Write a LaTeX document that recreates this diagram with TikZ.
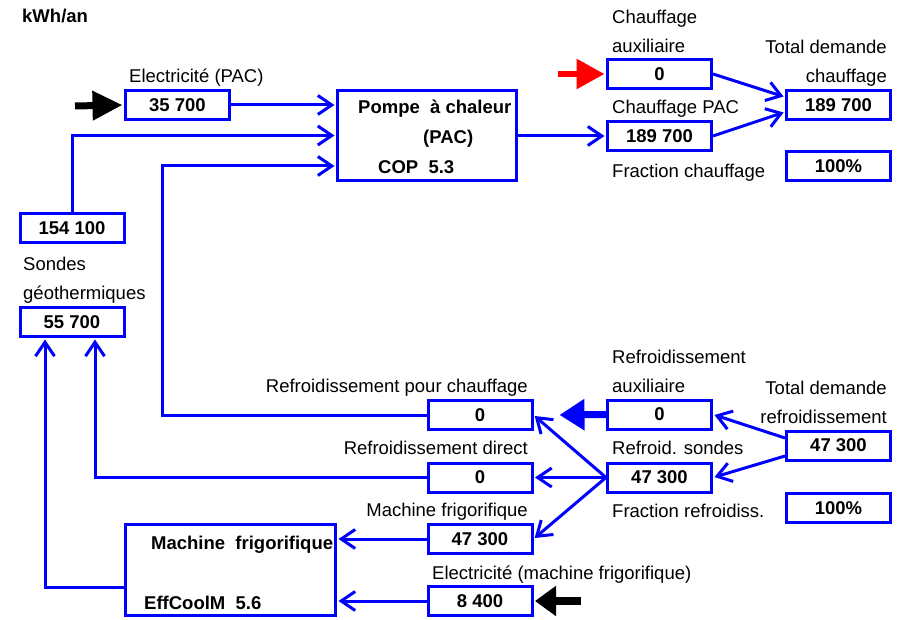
\documentclass[tikz,border=0pt]{standalone}
\usepackage{fontspec}
\setmainfont{Liberation Sans}
\usetikzlibrary{arrows.meta}
\begin{document}
\begin{tikzpicture}[x=1pt, y=-1pt, font=\fontsize{18.5}{29}\selectfont, line join=miter,
	>={Straight Barb[length=14pt,width=19pt]},
	box/.style={draw=blue, line width=3pt, minimum width=104pt, minimum height=29pt, inner sep=0pt, font=\fontsize{18.5}{29}\selectfont\bfseries},
	lab/.style={anchor=base west, inner sep=0pt, align=left},
	rlab/.style={anchor=base east, inner sep=0pt, align=right},
	blab/.style={anchor=base west, inner sep=0pt, font=\fontsize{18.5}{29}\selectfont\bfseries},
	flow/.style={->, draw=blue, line width=3pt, shorten >=1.5pt},
	bigarrow/.style={line width=7pt, shorten >=1.5pt}]
	\useasboundingbox (0,0) rectangle (897,620); % khung hình
	% cases valeurs
	\node[box] (elecpac) at (177.5,105) {35 700};
	\node[box, minimum width=179pt, minimum height=90pt] (pac) at (427,135.5) {};
	\node[box] (chaux) at (659.5,74) {0};
	\node[box] (chpac) at (659.5,136) {189 700};
	\node[box] (tch) at (838.5,105.5) {189 700};
	\node[box] (fch) at (838.5,166.5) {100\%};
	\node[box] (geotot) at (72,228.5) {154 100};
	\node[box] (geo) at (72,322) {55 700};
	\node[box] (rpc) at (480,415) {0};
	\node[box] (rdir) at (480,477.5) {0};
	\node[box] (mfval) at (480,539) {47 300};
	\node[box] (elmf) at (480,601) {8 400};
	\node[box] (rfaux) at (659.5,414.5) {0};
	\node[box] (rfsond) at (659.5,477.5) {47 300};
	\node[box] (trf) at (838.5,445.5) {47 300};
	\node[box] (frf) at (838.5,508) {100\%};
	\node[box, minimum width=210pt, minimum height=91pt] (mach) at (230.5,570) {};
	% textes
	\node[blab] (unit) at (22,23) {kWh/an};
	\node[blab] (pac1) at (358,114) {Pompe\ \ à chaleur};
	\node[blab] (pac2) at (423,143.5) {(PAC)};
	\node[blab] (pac3) at (378,174) {COP\ \ 5.3};
	\node[blab] (mach1) at (151,549) {Machine\ \ frigorifique};
	\node[blab] (mach2) at (144,609) {EffCoolM\ \ 5.6};
	\node[lab] (lelecpac) at (129,83) {Electricité (PAC)};
	\node[lab] (lchaux) at (612,53) {Chauffage\\auxiliaire};
	\node[rlab] (ltch) at (887,83) {Total demande\\chauffage};
	\node[lab] (lchpac) at (612,114) {Chauffage PAC};
	\node[lab] (lfch) at (612,178) {Fraction chauffage};
	\node[lab] (lgeo) at (23,300) {Sondes\\géothermiques};
	\node[rlab] (lrpc) at (528,392) {Refroidissement pour chauffage};
	\node[rlab] (lrdir) at (528,454) {Refroidissement direct};
	\node[rlab] (lmfval) at (528,516) {Machine frigorifique};
	\node[lab] (lelmf) at (432,579) {Electricité (machine frigorifique)};
	\node[lab] (lrfaux) at (612,392) {Refroidissement\\auxiliaire};
	\node[rlab] (ltrf) at (887,423) {Total demande\\refroidissement};
	\node[lab] (lrfsond) at (612,454) {Refroid. sondes};
	\node[lab] (lfrf) at (612,517) {Fraction refroidiss.};
	% flux
	\coordinate (bendA) at (162,166);
	\draw[flow] (elecpac.east) -- (elecpac.east -| pac.west);
	\draw[flow] (geotot.north) |- (pac.west);
	\draw[flow] (rpc.west) -| (bendA) -- (bendA -| pac.west);
	\draw[flow] (pac.east |- chpac.west) -- (chpac.west);
	\draw[flow] (chaux.east) -- ([yshift=8.5pt]tch.west);
	\draw[flow] (chpac.east) -- ([yshift=-6.5pt]tch.west);
	\draw[flow] ([yshift=7.5pt]trf.west) -- (rfaux.east);
	\draw[flow] ([yshift=-10.5pt]trf.west) -- (rfsond.east);
	\draw[flow] (rfsond.west) -- (rpc.east);
	\draw[flow] (rfsond.west) -- (rdir.east);
	\draw[flow] (rfsond.west) -- (mfval.east);
	\draw[flow] (rdir.west) -| ([xshift=23pt]geo.south);
	\draw[flow] ([yshift=-17pt]mach.west) -| ([xshift=-27pt]geo.south);
	\draw[flow] (mfval.west) -- (mfval.west -| mach.east);
	\draw[flow] (elmf.west) -- (elmf.west -| mach.east);
	% grosses flèches
	\coordinate (inA) at (75,106);
	\coordinate (inB) at (558,74);
	\coordinate (outC) at (558,415);
	\coordinate (inD) at (581,601);
	\draw[bigarrow, -{Triangle[length=30pt,width=28pt]}] (inA) -- (elecpac.west);
	\draw[bigarrow, red, line width=6pt, -{Triangle[length=28pt,width=29pt]}] (inB) -- (chaux.west);
	\draw[bigarrow, blue, -{Triangle[length=25pt,width=30pt]}] (rfaux.west) -- (outC);
	\draw[bigarrow, line width=8pt, -{Triangle[length=21pt,width=29pt]}] (inD) -- (elmf.east);
\end{tikzpicture}
\end{document}
